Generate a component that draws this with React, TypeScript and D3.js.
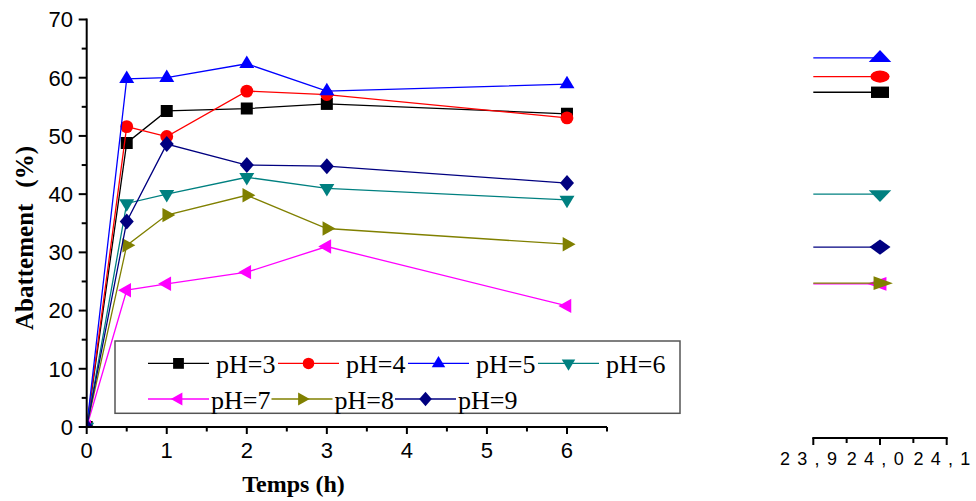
import React from "react";
import * as d3 from "d3";

// Sampling times (h)
const times = [0, 0.5, 1, 2, 3, 6];

// Abatement (%) per pH
const pH3 = [0, 48.8, 54.3, 54.7, 55.5, 53.8];
const pH4 = [0, 51.6, 49.9, 57.7, 57.1, 53.1];
const pH5 = [0, 59.8, 60.0, 62.4, 57.7, 58.9];
const pH6 = [0, 38.4, 40.0, 42.9, 41.0, 39.0];
const pH7 = [0, 23.5, 24.6, 26.6, 31.0, 20.8];
const pH8 = [0, 31.2, 36.4, 39.8, 34.1, 31.4];
const pH9 = [0, 35.3, 48.6, 45.0, 44.8, 41.9];

// Abatement at 24 h (broken-axis panel), same order as the series
const at24h = [57.5, 60.2, 63.4, 40.0, 24.6, 24.7, 30.9];
const lateTime = 24.0;

const seriesNames = ["pH=3", "pH=4", "pH=5", "pH=6", "pH=7", "pH=8", "pH=9"];
const seriesValues = [pH3, pH4, pH5, pH6, pH7, pH8, pH9];
const seriesColors = ["#000000", "#FF0000", "#0000FF", "#008080", "#FF00FF", "#808000", "#000080"];
const seriesShapes = ["square", "circle", "up", "down", "left", "right", "diamond"];

const xTicks = [0, 1, 2, 3, 4, 5, 6];
const yTicks = [0, 10, 20, 30, 40, 50, 60, 70];
const lateTicks = [23.9, 24.0, 24.1];
const lateTickLabels = ["23,9", "24,0", "24,1"];

const W = 976;
const H = 501;

const x = d3.scaleLinear().domain([0, 6.5]).range([86.7, 607]);
const y = d3.scaleLinear().domain([0, 70]).range([427, 19.5]);
const xLate = d3.scaleLinear().domain([23.9, 24.1]).range([813.3, 946.7]);

function markerPath(shape: string): string {
  switch (shape) {
    case "square":
      return "M-6,-6h12v12h-12z";
    case "circle":
      return d3.symbol().type(d3.symbolCircle).size(Math.PI * 6.4 * 6.4)() as string;
    case "up":
      return "M0,-8.3L7.5,4.2L-7.5,4.2Z";
    case "down":
      return "M0,8.3L7.5,-4.2L-7.5,-4.2Z";
    case "left":
      return "M-8.6,0L4.3,-7.2L4.3,7.2Z";
    case "right":
      return "M8.6,0L-4.3,-7.2L-4.3,7.2Z";
    case "diamond":
      return "M0,-8L7,0L0,8L-7,0Z";
  }
  return "";
}

const serif = "'Liberation Serif', 'Times New Roman', serif";
const sans = "'Liberation Sans', Arial, sans-serif";

export default function App() {
  const line = d3
    .line<[number, number]>()
    .x((d) => x(d[0]))
    .y((d) => y(d[1]));

  const legendRows = [
    { items: [0, 1, 2, 3], y: 363.4, base: 373.3, pitch: 130, textGap: 7 },
    { items: [4, 5, 6], y: 399, base: 408.5, pitch: 123.5, textGap: 2 },
  ];
  const legendX0 = 148;
  const legendLine = 61;

  return (
    <svg
      width={W}
      height={H}
      viewBox={`0 0 ${W} ${H}`}
      style={{ position: "absolute", left: 0, top: 0, display: "block", background: "#fff" }}
    >
      <defs>
        <clipPath id="plotClip">
          <rect x={x(0)} y={0} width={620} height={y(0)} />
        </clipPath>
      </defs>

      {/* Series */}
      <g clipPath="url(#plotClip)">
        {seriesValues.map((vals, i) => {
          const pts = times.map((t, k) => [t, vals[k]] as [number, number]);
          return (
            <g key={seriesNames[i]}>
              <path d={line(pts) as string} fill="none" stroke={seriesColors[i]} strokeWidth={1.3} />
              {pts.map((p, k) => (
                <path
                  key={k}
                  d={markerPath(seriesShapes[i])}
                  transform={`translate(${x(p[0])},${y(p[1])})`}
                  fill={seriesColors[i]}
                />
              ))}
            </g>
          );
        })}
      </g>

      {/* Axes */}
      <g stroke="#000" strokeWidth={2} fill="none">
        <line x1={x(0)} y1={y(70) - 1} x2={x(0)} y2={y(0) + 1} />
        <line x1={x(0) - 1} y1={y(0)} x2={x(6.5)} y2={y(0)} />
        {d3.range(0, 71, 5).map((v) => (
          <line key={`yt${v}`} x1={x(0) - (v % 10 === 0 ? 8 : 5)} x2={x(0)} y1={y(v)} y2={y(v)} />
        ))}
        {d3.range(0, 6.51, 0.5).map((v) => (
          <line key={`xt${v}`} x1={x(v)} x2={x(v)} y1={y(0)} y2={y(0) + (v % 1 === 0 ? 7 : 4.5)} />
        ))}
      </g>
      <g fontFamily={sans} fontSize={22} fill="#000">
        {yTicks.map((v) => (
          <text key={`yl${v}`} x={73} y={y(v) + 7.8} textAnchor="end">
            {v}
          </text>
        ))}
        {xTicks.map((v) => (
          <text key={`xl${v}`} x={x(v)} y={458.3} textAnchor="middle">
            {v}
          </text>
        ))}
      </g>

      {/* Axis titles */}
      <text x={293.5} y={492} textAnchor="middle" fontFamily={serif} fontWeight="bold" fontSize={24}>
        Temps (h)
      </text>
      <text
        transform="translate(33,330) rotate(-90)"
        x={0}
        y={0}
        textAnchor="start"
        fontFamily={serif}
        fontWeight="bold"
        fontSize={25}
      >
        Abattement
        <tspan dx={16}>(%)</tspan>
      </text>

      {/* Legend */}
      <rect x={115} y={341} width={565} height={72.3} fill="#fff" stroke="#555" strokeWidth={1.5} />
      {legendRows.map((row) =>
        row.items.map((si, j) => {
          const lx = legendX0 + j * row.pitch;
          return (
            <g key={seriesNames[si]}>
              <line x1={lx} x2={lx + legendLine} y1={row.y} y2={row.y} stroke={seriesColors[si]} strokeWidth={1.3} />
              <path
                d={markerPath(seriesShapes[si])}
                transform={`translate(${lx + legendLine / 2},${row.y}) scale(0.9)`}
                fill={seriesColors[si]}
              />
              <text x={lx + legendLine + row.textGap} y={row.base} fontFamily={serif} fontSize={26} fill="#000">
                {seriesNames[si]}
              </text>
            </g>
          );
        })
      )}

      {/* 24 h panel */}
      <g>
        {at24h.map((v, i) => (
          <g key={`late${i}`}>
            <line
              x1={xLate(23.9)}
              x2={xLate(lateTime)}
              y1={y(v)}
              y2={y(v)}
              stroke={seriesColors[i]}
              strokeWidth={1.3}
            />
            <path
              d={markerPath(seriesShapes[i])}
              transform={`translate(${xLate(lateTime)},${y(v)}) scale(1.5,0.95)`}
              fill={seriesColors[i]}
            />
          </g>
        ))}
      </g>
      <g stroke="#000" strokeWidth={2} fill="none">
        <line x1={xLate(23.9) - 1} x2={xLate(24.1) + 1} y1={438} y2={438} />
        {d3.range(0, 5).map((k) => {
          const v = 23.9 + k * 0.05;
          return <line key={`lt${k}`} x1={xLate(v)} x2={xLate(v)} y1={438} y2={k % 2 === 0 ? 445 : 443} />;
        })}
      </g>
      <g fontFamily={sans} fontSize={18} fill="#000">
        {lateTicks.map((v, i) => {
          const label = lateTickLabels[i];
          return (
            <text key={`ll${i}`} x={xLate(v) - 33.3} y={465}>
              <tspan letterSpacing={7.3}>{label.slice(0, -1)}</tspan>
              <tspan>{label.slice(-1)}</tspan>
            </text>
          );
        })}
      </g>
    </svg>
  );
}
